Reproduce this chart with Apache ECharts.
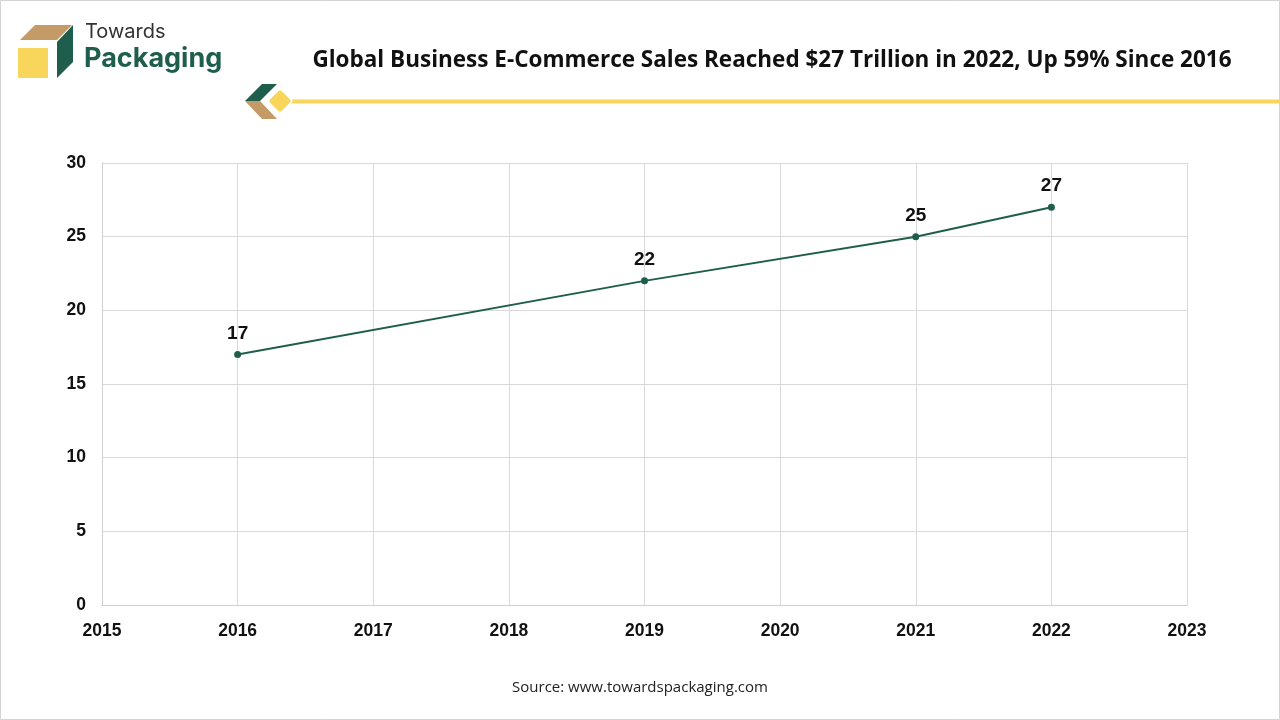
<!DOCTYPE html>
<html>
<head>
<meta charset="utf-8">
<script src="https://cdn.jsdelivr.net/npm/echarts@6/dist/echarts.min.js"></script>
<style>
  html, body { margin: 0; padding: 0; background: #fff; }
  #chart { width: 1280px; height: 720px; }
</style>
</head>
<body>
<div id="chart"></div>
<script>
// chart data
var years = [2016, 2019, 2021, 2022]
var sales = [17, 22, 25, 27]
var xTicks = { min: 2015, max: 2023, step: 1 }
var yTicks = { min: 0, max: 30, step: 5 }

var green = '#1f5e4c'
var tan = '#c49a66'
var yellow = '#f8d65c'

var chart = echarts.init(document.getElementById('chart'))

var points = years.map(function (y, i) { return [y, sales[i]] })

chart.setOption({
  backgroundColor: '#fff',
  animation: false,
  title: {
    text: 'Global Business E-Commerce Sales Reached $27 Trillion in 2022, Up 59% Since 2016',
    left: 767,
    top: 44,
    textAlign: 'center',
    textStyle: { fontFamily: 'Open Sans', fontWeight: 'bold', fontSize: 22.5, color: '#111' }
  },
  grid: { left: 102, right: 93, top: 163, bottom: 115 },
  xAxis: {
    type: 'value',
    min: xTicks.min,
    max: xTicks.max,
    interval: xTicks.step,
    axisLine: { show: true, lineStyle: { color: '#d0d0d0' } },
    axisTick: { show: false },
    splitLine: { show: true, lineStyle: { color: '#d9d9d9' } },
    axisLabel: {
      margin: 17,
      fontFamily: 'Liberation Sans', fontWeight: 'bold', fontSize: 17.5, color: '#111',
      formatter: function (v) { return String(v) }
    }
  },
  yAxis: {
    type: 'value',
    min: yTicks.min,
    max: yTicks.max,
    interval: yTicks.step,
    axisLine: { show: true, lineStyle: { color: '#d0d0d0' } },
    axisTick: { show: false },
    splitLine: { show: true, lineStyle: { color: '#d9d9d9' } },
    axisLabel: {
      margin: 16,
      padding: [3, 0, 0, 0],
      fontFamily: 'Liberation Sans', fontWeight: 'bold', fontSize: 17.5, color: '#111'
    }
  },
  series: [{
    type: 'line',
    data: points,
    symbol: 'circle',
    symbolSize: 7,
    itemStyle: { color: green },
    lineStyle: { color: green, width: 2 },
    label: {
      show: true,
      position: 'top',
      distance: 8,
      fontFamily: 'Liberation Sans', fontWeight: 'bold', fontSize: 19, color: '#111',
      formatter: function (p) { return p.value[1] }
    }
  }],
  graphic: [
    // outer border
    { type: 'rect', shape: { x: 0.5, y: 0.5, width: 1279, height: 719 },
      style: { fill: 'none', stroke: '#d4d4d4', lineWidth: 1 } },
    // logo cube
    { type: 'polygon', shape: { points: [[20, 40], [35, 25], [72, 25], [57, 40]] }, style: { fill: tan } },
    { type: 'polygon', shape: { points: [[57, 42], [73, 25], [73, 62], [57, 78]] }, style: { fill: green } },
    { type: 'rect', shape: { x: 18, y: 48, width: 30, height: 30 }, style: { fill: yellow } },
    { type: 'text', left: 85, top: 22, style: { text: 'Towards', fontFamily: 'Inter', fontSize: 20, fill: '#333' } },
    { type: 'text', left: 84, top: 45, style: { text: 'Packaging', fontFamily: 'Inter', fontWeight: 'bold', fontSize: 27, fill: green } },
    // title ornament
    { type: 'polygon', shape: { points: [[245, 101], [262, 84], [277, 84], [260, 101]] }, style: { fill: green } },
    { type: 'polygon', shape: { points: [[245, 101], [260, 101], [277, 119], [262, 119]] }, style: { fill: tan } },
    { type: 'rect', shape: { x: 290, y: 99.5, width: 990, height: 4 }, style: { fill: yellow } },
    { type: 'rect', x: 280, y: 101, rotation: Math.PI / 4, shape: { x: -9, y: -9, width: 18, height: 18, r: 3 },
      style: { fill: yellow, stroke: '#fff', lineWidth: 1.5 } },
    // source
    { type: 'text', left: 'center', top: 680, style: { text: 'Source: www.towardspackaging.com', fontFamily: 'Open Sans', fontSize: 15, fill: '#222' } }
  ]
})
</script>
</body>
</html>
